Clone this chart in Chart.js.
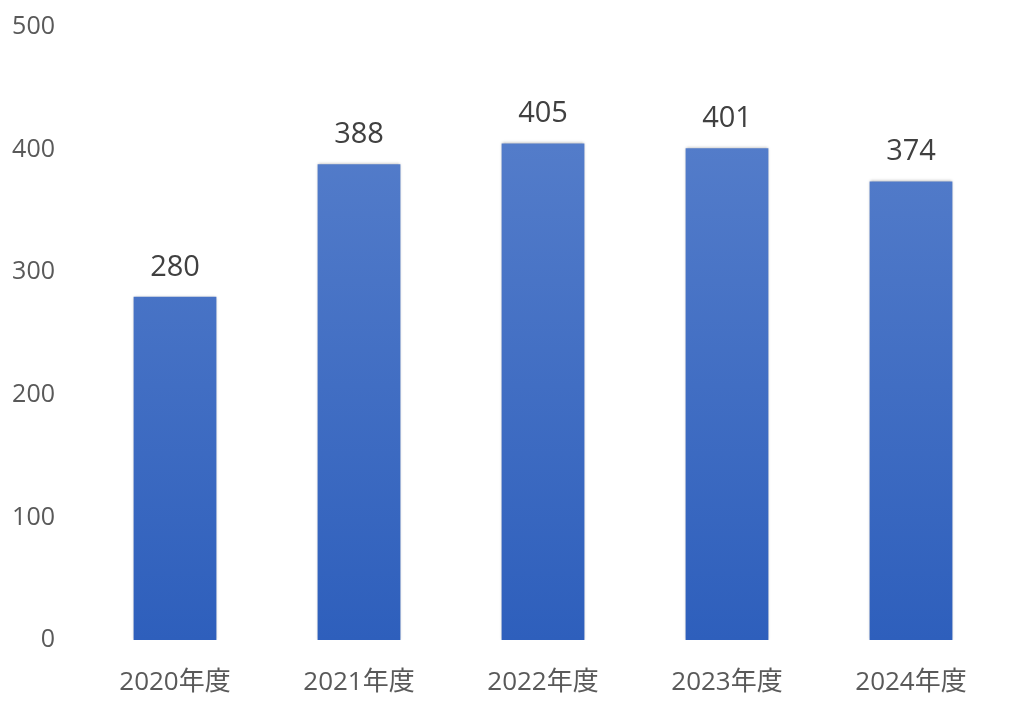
<!DOCTYPE html>
<html>
<head>
<meta charset="utf-8">
<script src="https://cdn.jsdelivr.net/npm/chart.js@4"></script>
<style>
  html, body { margin: 0; padding: 0; background: #fff; }
  #wrap { width: 1024px; height: 717px; }
</style>
</head>
<body>
<div id="wrap"><canvas id="chart"></canvas></div>
<script>
const categories = ["2020年度", "2021年度", "2022年度", "2023年度", "2024年度"];
const values = [280, 388, 405, 401, 374];
const yTicks = [0, 100, 200, 300, 400, 500];

const FONT = "'Open Sans', 'Noto Sans CJK JP', sans-serif";

// bar gradient, light at the top, darker at the base
function barFill(context) {
  const chart = context.chart;
  const area = chart.chartArea;
  if (!area) return "#4472c4";
  const g = chart.ctx.createLinearGradient(0, area.top, 0, area.bottom);
  g.addColorStop(0, "#5c83cd");
  g.addColorStop(1, "#2e5fbc");
  return g;
}

// numbers above the bars
const valueLabels = {
  id: "valueLabels",
  afterDatasetsDraw(chart) {
    const ctx = chart.ctx;
    const meta = chart.getDatasetMeta(0);
    ctx.save();
    ctx.font = "29px " + FONT;
    ctx.fillStyle = "#404040";
    ctx.textAlign = "center";
    ctx.textBaseline = "alphabetic";
    meta.data.forEach((bar, i) => {
      ctx.fillText(chart.data.datasets[0].data[i], bar.x, bar.y - 21);
    });
    ctx.restore();
  }
};

// soft shadow around the bars
const barShadow = {
  id: "barShadow",
  beforeDatasetsDraw(chart) {
    chart.ctx.save();
    chart.ctx.shadowColor = "rgba(0,0,0,0.35)";
    chart.ctx.shadowBlur = 3;
  },
  afterDatasetsDraw(chart) {
    chart.ctx.restore();
  }
};

new Chart(document.getElementById("chart"), {
  type: "bar",
  data: {
    labels: categories,
    datasets: [{
      data: values,
      backgroundColor: barFill,
      borderWidth: 0,
      categoryPercentage: 1,
      barPercentage: 0.45
    }]
  },
  options: {
    responsive: true,
    maintainAspectRatio: false,
    animation: false,
    layout: { padding: { top: 27, right: 21, left: 0, bottom: 0 } },
    plugins: { legend: { display: false }, tooltip: { enabled: false } },
    scales: {
      x: {
        grid: { display: false, drawTicks: false },
        border: { display: false },
        ticks: { color: "#595959", font: { family: FONT, size: 26 }, padding: 27 },
        afterFit(scale) {
          scale.height = 77;
          scale.paddingLeft = 0;
          scale.paddingRight = 0;
        }
      },
      y: {
        min: 0,
        max: 500,
        grid: { display: false, drawTicks: false },
        border: { display: false },
        afterBuildTicks(scale) { scale.ticks = yTicks.map(v => ({ value: v })); },
        ticks: { color: "#595959", font: { family: FONT, size: 25 }, padding: 28 },
        afterFit(scale) {
          scale.width = 83;
          scale.paddingTop = 0;
          scale.paddingBottom = 0;
        }
      }
    }
  },
  plugins: [barShadow, valueLabels]
});
</script>
</body>
</html>
